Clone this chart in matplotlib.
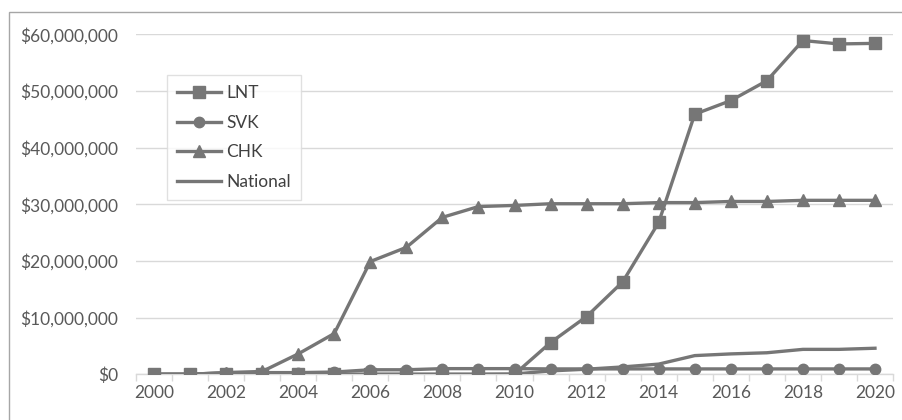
import matplotlib.pyplot as plt
from matplotlib.patches import Rectangle
from matplotlib.ticker import FuncFormatter, FixedLocator

plt.rcParams['font.family'] = ['Lato', 'DejaVu Sans']

years = [str(y) for y in range(2000, 2021)]
lnt = [0, 0, 0, 0, 0, 0, 0, 0, 0, 0, 0,
       5.6e6, 10.2e6, 16.3e6, 26.8e6, 45.9e6, 48.3e6, 51.8e6, 58.9e6, 58.3e6, 58.4e6]
svk = [0, 0, 0.3e6, 0.3e6, 0.3e6, 0.4e6, 0.8e6, 0.8e6, 1.0e6, 1.0e6, 1.0e6,
       0.95e6, 0.95e6, 0.95e6, 0.95e6, 0.95e6, 0.95e6, 0.95e6, 0.95e6, 0.95e6, 0.95e6]
chk = [0, 0, 0.3e6, 0.5e6, 3.6e6, 7.2e6, 19.9e6, 22.4e6, 27.7e6, 29.6e6, 29.8e6,
       30.1e6, 30.1e6, 30.1e6, 30.3e6, 30.3e6, 30.5e6, 30.5e6, 30.7e6, 30.7e6, 30.7e6]
national = [0, 0, 0, 0, 0, 0, 0, 0, 0, 0, 0.05e6,
            0.6e6, 0.9e6, 1.3e6, 1.8e6, 3.3e6, 3.6e6, 3.8e6, 4.4e6, 4.4e6, 4.6e6]

line_color = '#767676'
text_color = '#595959'
grid_color = '#d9d9d9'

fig = plt.figure(figsize=(9.03, 4.2), dpi=100)
ax = fig.add_axes([136 / 903, 1 - 374.3 / 420, (893 - 136) / 903, (374.3 - 34.3) / 420])

# chart border (cropped on the right and bottom)
fig.patches.append(Rectangle((9 / 903, -0.1), 1.2, 1 - 12 / 420 + 0.1,
                             transform=fig.transFigure, fill=False,
                             edgecolor='#a6a6a6', linewidth=1.0))

x = list(range(len(years)))
ax.plot(x, lnt, color=line_color, lw=2.4, marker='s', ms=8, label='LNT', zorder=3)
ax.plot(x, svk, color=line_color, lw=2.4, marker='o', ms=7.5, label='SVK', zorder=4)
ax.plot(x, chk, color=line_color, lw=2.4, marker='^', ms=8.5, label='CHK', zorder=5)
ax.plot(x, national, color=line_color, lw=2.4, label='National', zorder=6)

ax.set_xlim(-0.5, len(years) - 0.5)
ax.set_ylim(0, 60e6)
ax.set_yticks([i * 10e6 for i in range(7)])
ax.yaxis.set_major_formatter(FuncFormatter(lambda v, p: f'${v:,.0f}'))
ax.grid(axis='y', color=grid_color, linewidth=1.0, zorder=0)
ax.set_axisbelow(True)

ax.set_xticks(x[::2])
ax.set_xticklabels(years[::2])
ax.xaxis.set_minor_locator(FixedLocator([i - 0.5 for i in range(len(years) + 1)]))
ax.tick_params(axis='x', which='major', length=0, pad=8, labelsize=12.5, labelcolor=text_color)
ax.tick_params(axis='x', which='minor', length=5, color=grid_color, width=1)
ax.tick_params(axis='y', length=0, pad=13, labelsize=12.5, labelcolor=text_color)

for s in ['top', 'right', 'left']:
    ax.spines[s].set_visible(False)
ax.spines['bottom'].set_color(grid_color)
ax.spines['bottom'].set_linewidth(1.0)

leg = ax.legend(loc='upper left', bbox_to_anchor=((167 - 136) / 757, (374.3 - 75) / 340),
                borderaxespad=0, frameon=True, fancybox=False, edgecolor='#d9d9d9',
                fontsize=12.5, handlelength=2.5, labelspacing=0.78, borderpad=0.6,
                handletextpad=0.3)
leg.get_frame().set_linewidth(1.0)
for t in leg.get_texts():
    t.set_color('#404040')

fig.savefig('out.png', dpi=100)
